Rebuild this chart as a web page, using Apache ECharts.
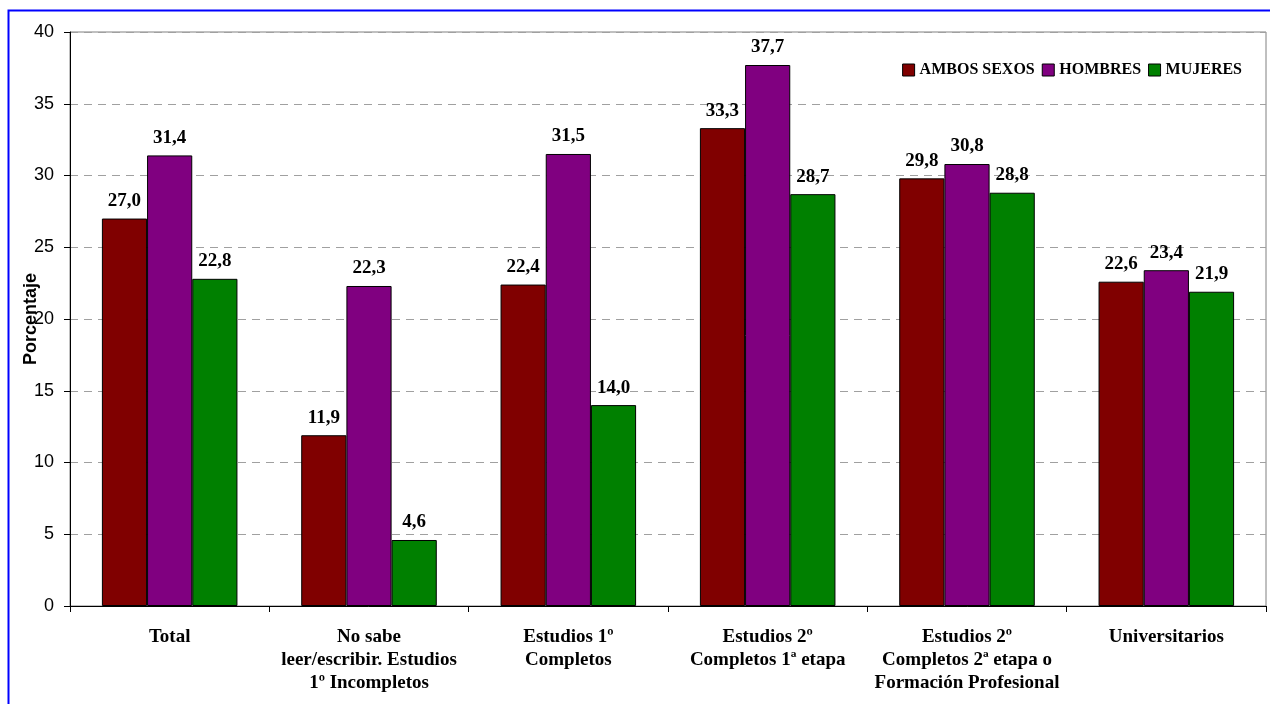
<!DOCTYPE html>
<html>
<head>
<meta charset="utf-8">
<script src="https://cdn.jsdelivr.net/npm/echarts@6/dist/echarts.min.js"></script>
<style>
  html, body { margin: 0; padding: 0; background: #fff; }
  #chart { width: 1270px; height: 704px; }
</style>
</head>
<body>
<div id="chart"></div>
<script>
// Nivel de estudios: porcentaje por sexo
const categories = [
  'Total',
  'No sabe\nleer/escribir. Estudios\n1º Incompletos',
  'Estudios 1º\nCompletos',
  'Estudios 2º\nCompletos 1ª etapa',
  'Estudios 2º\nCompletos 2ª etapa o\nFormación Profesional',
  'Universitarios'
];
const ambosSexos = [27.0, 11.9, 22.4, 33.3, 29.8, 22.6];
const hombres    = [31.4, 22.3, 31.5, 37.7, 30.8, 23.4];
const mujeres    = [22.8, 4.6, 14.0, 28.7, 28.8, 21.9];
const seriesNames = ['AMBOS SEXOS', 'HOMBRES', 'MUJERES'];
const colors = ['#800000', '#800080', '#008000'];

const serif = '"Liberation Serif", "Times New Roman", serif';
const sans = '"Liberation Sans", Arial, sans-serif';

const chart = echarts.init(document.getElementById('chart'));

function barSeries(name, data, color) {
  return {
    name: name,
    type: 'bar',
    data: data,
    barGap: '0%',
    barCategoryGap: '32%',
    itemStyle: { color: color, borderColor: '#000', borderWidth: 1 },
    label: {
      show: true,
      position: 'top',
      distance: 8,
      fontFamily: serif,
      fontWeight: 'bold',
      fontSize: 19,
      color: '#000',
      formatter: p => p.value.toFixed(1).replace('.', ',')
    }
  };
}

chart.setOption({
  animation: false,
  backgroundColor: '#fff',
  graphic: [{
    type: 'rect',
    shape: { x: 8.5, y: 10.5, width: 1280, height: 720 },
    style: { fill: 'none', stroke: '#0000ff', lineWidth: 2 },
    silent: true
  }],
  legend: {
    top: 57,
    right: 23,
    itemWidth: 12,
    itemHeight: 12,
    itemGap: 7,
    icon: 'rect',
    textStyle: { fontFamily: serif, fontWeight: 'bold', fontSize: 16, color: '#000' },
    itemStyle: { borderColor: '#000', borderWidth: 1 },
    data: seriesNames
  },
  grid: {
    left: 70, right: 4, top: 32, bottom: 98,
    show: true, borderColor: '#808080', borderWidth: 1,
    containLabel: false,
    outerBoundsMode: 'none'
  },
  xAxis: {
    type: 'category',
    data: categories,
    axisLine: { lineStyle: { color: '#000', width: 1 } },
    axisTick: { show: true, length: 6, lineStyle: { color: '#000' } },
    axisLabel: {
      interval: 0,
      margin: 20,
      fontFamily: serif,
      fontWeight: 'bold',
      fontSize: 19,
      lineHeight: 23,
      color: '#000',
      align: 'center'
    }
  },
  yAxis: {
    type: 'value',
    min: 0, max: 40, interval: 5,
    name: 'Porcentaje',
    nameLocation: 'middle',
    nameGap: 30,
    nameMoveOverlap: false,
    nameTextStyle: { fontFamily: sans, fontWeight: 'bold', fontSize: 18, color: '#000' },
    axisLine: { show: true, lineStyle: { color: '#000', width: 1 } },
    axisTick: { show: true, length: 6, lineStyle: { color: '#000' } },
    axisLabel: { fontFamily: sans, fontSize: 18, color: '#000', margin: 16 },
    splitLine: { show: true, lineStyle: { color: '#a0a0a0', type: [8, 6], width: 1 } }
  },
  series: [
    barSeries(seriesNames[0], ambosSexos, colors[0]),
    barSeries(seriesNames[1], hombres, colors[1]),
    barSeries(seriesNames[2], mujeres, colors[2])
  ]
});
</script>
</body>
</html>
